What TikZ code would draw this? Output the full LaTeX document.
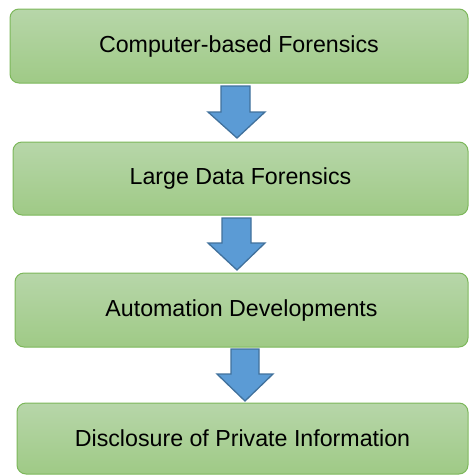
\documentclass[tikz,border=0pt]{standalone}
\usepackage{fontspec}
\setmainfont{Liberation Sans}
\definecolor{gtop}{HTML}{B7D6A9}
\definecolor{gbot}{HTML}{9FCA86}
\definecolor{gline}{HTML}{7CB75A}
\definecolor{afill}{HTML}{5B9BD5}
\definecolor{aline}{HTML}{41719C}
\tikzset{
  stagebox/.style={draw=gline, line width=1pt, rounded corners=9pt, top color=gtop, bottom color=gbot, inner sep=0pt, font=\fontsize{23.2}{26}\selectfont, text=black},
  bluearrow/.style={fill=afill, draw=aline, line width=1.3pt, line join=miter}
}
\begin{document}
\begin{tikzpicture}[x=1pt,y=-1pt]
\useasboundingbox (0,0) rectangle (469,475);
\node[stagebox, minimum width=458pt, minimum height=74pt] (b1) at (239,46) {Computer-based Forensics};
\node[stagebox, minimum width=455pt, minimum height=73pt] (b2) at (240.5,178.5) {Large Data Forensics};
\node[stagebox, minimum width=453pt, minimum height=74pt] (b3) at (241.5,310) {Automation Developments};
\node[stagebox, minimum width=451pt, minimum height=71pt] (b4) at (242.5,438.5) {Disclosure of Private Information};
\draw[bluearrow] (221,86) -- (250,86) -- (250,112) -- (265,112) -- (237,138) -- (208,112) -- (221,112) -- cycle;
\draw[bluearrow] (222,218) -- (251,218) -- (251,243) -- (265,243) -- (237,270) -- (208,243) -- (222,243) -- cycle;
\draw[bluearrow] (231,349) -- (259,349) -- (259,374) -- (273,374) -- (245,401) -- (217,374) -- (231,374) -- cycle;
\end{tikzpicture}
\end{document}
